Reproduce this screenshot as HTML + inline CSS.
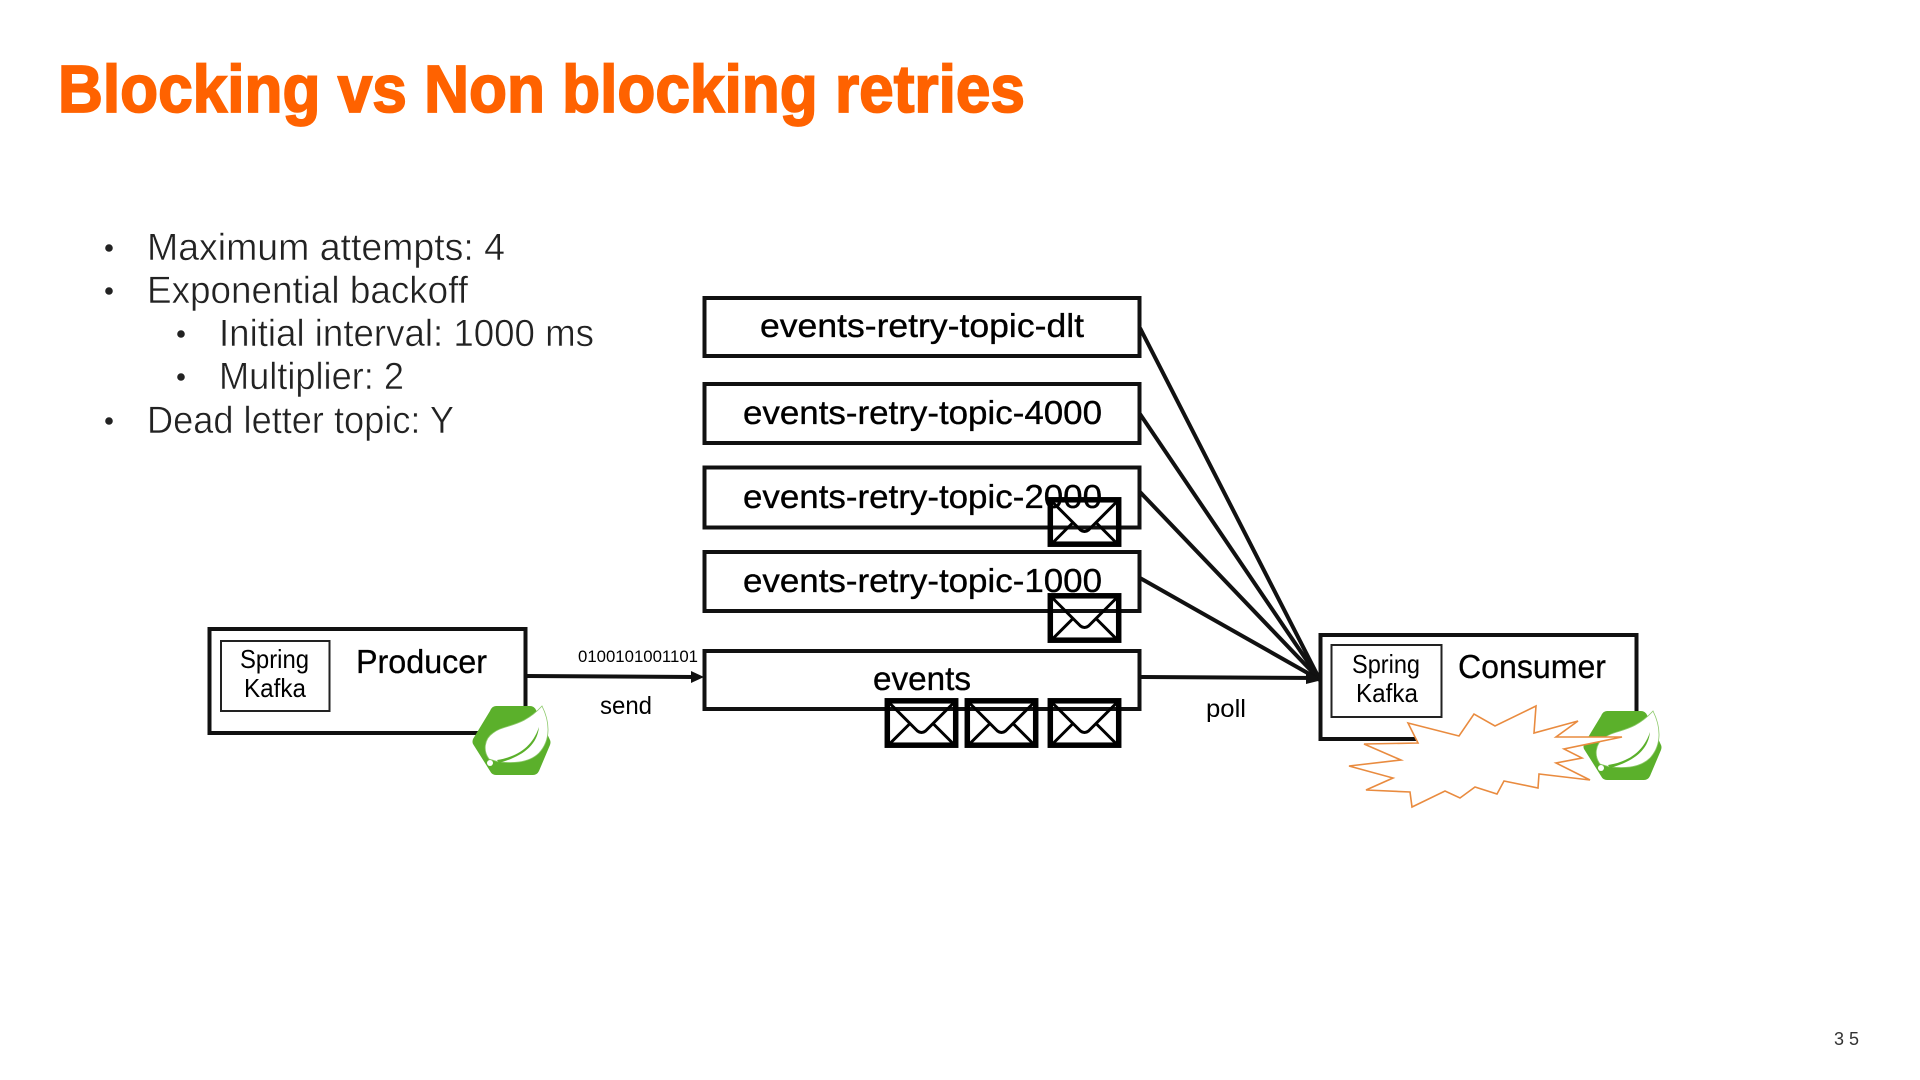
<!DOCTYPE html>
<html lang="en">
<head>
<meta charset="utf-8">
<title>Blocking vs Non blocking retries</title>
<style>
html,body{margin:0;padding:0;background:#fff;width:1920px;height:1080px;overflow:hidden}
svg{display:block}
text{font-family:"Liberation Sans",sans-serif;fill:#000}
.b{font-size:38px;fill:#222;stroke:#fff;stroke-width:.5px}
.t{font-size:33px;stroke:#000;stroke-width:.35px}
.s{font-size:26px}
.box{fill:#fff;stroke:#111;stroke-width:4}
.inner{fill:#fff;stroke:#222;stroke-width:2}
.conn{stroke:#111;stroke-width:4;fill:none}
.env{fill:none;stroke:#000;stroke-linejoin:miter}
</style>
</head>
<body>
<svg width="1920" height="1080" viewBox="0 0 1920 1080" xmlns="http://www.w3.org/2000/svg">
<defs>
<g id="env">
  <rect x="2.800" y="2.800" width="68.400" height="44.400" class="env" stroke-width="5.500"/>
  <path d="M5 5 L33 33 Q37 36 41 33 L69 5" class="env" stroke-width="3"/>
  <path d="M5 46 L26 25 M69 46 L48 25" class="env" stroke-width="3"/>
</g>
<g id="logo">
  <path d="M24 0 H58 Q62 0 64 4 L78 34 Q79 36 78 39 L67 65 Q65 69 61 69 H24 Q20 69 18 65 L1 38 Q0 36 1 33 L18 5 Q20 0 24 0 Z" fill="#5BB02B"/>
  <path d="M17 53 C11 45 12 33 21 27 C32 18 50 22 70 0 C78 16 79 34 67 47 C56 58 38 57 27 56 Z" fill="#fff" stroke="#8CC96A" stroke-width=".8"/>
  <path d="M25 54 C44 51 60 42 67 21 C65 41 48 51 27 57 Z" fill="#5BB02B"/>
  <circle cx="18" cy="57" r="3" fill="#fff"/>
</g>
</defs>

<text x="58" y="112" font-size="67" font-weight="700" textLength="967" lengthAdjust="spacingAndGlyphs" style="fill:#FF6200;stroke:#FF6200;stroke-width:1.8px">Blocking vs Non blocking retries</text>

<circle cx="109" cy="248" r="3.800" fill="#222"/>
<circle cx="109" cy="291" r="3.800" fill="#222"/>
<circle cx="181" cy="334" r="3.800" fill="#222"/>
<circle cx="181" cy="377" r="3.800" fill="#222"/>
<circle cx="109" cy="421" r="3.800" fill="#222"/>
<text class="b" x="147" y="260" textLength="358" lengthAdjust="spacingAndGlyphs">Maximum attempts: 4</text>
<text class="b" x="147" y="303" textLength="321" lengthAdjust="spacingAndGlyphs">Exponential backoff</text>
<text class="b" x="219" y="346" textLength="375" lengthAdjust="spacingAndGlyphs">Initial interval: 1000 ms</text>
<text class="b" x="219" y="389" textLength="185" lengthAdjust="spacingAndGlyphs">Multiplier: 2</text>
<text class="b" x="147" y="433" textLength="307" lengthAdjust="spacingAndGlyphs">Dead letter topic: Y</text>

<line class="conn" x1="1140" y1="328" x2="1320" y2="680"/>
<line class="conn" x1="1140" y1="414" x2="1320" y2="680"/>
<line class="conn" x1="1140" y1="492" x2="1320" y2="680"/>
<line class="conn" x1="1140" y1="578" x2="1320" y2="680"/>
<line class="conn" x1="1140" y1="677" x2="1320" y2="678"/>
<polygon points="1322,680 1306,671 1306,684" fill="#111"/>

<rect class="box" x="704.500" y="298" width="435" height="58"/>
<rect class="box" x="704.500" y="384" width="435" height="59"/>
<rect class="box" x="704.500" y="467.500" width="435" height="60"/>
<rect class="box" x="704.500" y="552" width="435" height="59"/>
<rect class="box" x="704.500" y="651" width="435" height="58"/>

<text class="t" x="760" y="337" textLength="324" lengthAdjust="spacingAndGlyphs">events-retry-topic-dlt</text>
<text class="t" x="743" y="424" textLength="359" lengthAdjust="spacingAndGlyphs">events-retry-topic-4000</text>
<text class="t" x="743" y="508" textLength="359" lengthAdjust="spacingAndGlyphs">events-retry-topic-2000</text>
<text class="t" x="743" y="592" textLength="359" lengthAdjust="spacingAndGlyphs">events-retry-topic-1000</text>
<text class="t" x="873" y="690" textLength="98" lengthAdjust="spacingAndGlyphs">events</text>

<use href="#env" x="1047.500" y="497"/>
<use href="#env" x="1047.500" y="593"/>
<use href="#env" x="884.500" y="698"/>
<use href="#env" x="964.500" y="698"/>
<use href="#env" x="1047.500" y="698"/>

<rect class="box" x="209.500" y="629" width="316" height="104"/>
<rect class="inner" x="221" y="641" width="108.500" height="70"/>
<text class="s" x="240" y="668" textLength="69" lengthAdjust="spacingAndGlyphs">Spring</text>
<text class="s" x="244" y="697" textLength="62" lengthAdjust="spacingAndGlyphs">Kafka</text>
<text x="356" y="673" font-size="33" textLength="131" lengthAdjust="spacingAndGlyphs" style="stroke:#000;stroke-width:.3px">Producer</text>
<use href="#logo" x="472" y="706"/>

<line class="conn" x1="526" y1="676" x2="694" y2="677"/>
<polygon points="704,677 691,671 691,683" fill="#111"/>
<text x="578" y="662" font-size="16.500" textLength="120" lengthAdjust="spacingAndGlyphs">0100101001101</text>
<text x="600" y="714" font-size="25" textLength="52" lengthAdjust="spacingAndGlyphs">send</text>
<text x="1206" y="717" font-size="25" textLength="40" lengthAdjust="spacingAndGlyphs">poll</text>

<rect class="box" x="1320.500" y="635" width="316" height="104"/>
<rect class="inner" x="1331.500" y="645" width="110" height="72"/>
<text class="s" x="1352" y="673" textLength="68" lengthAdjust="spacingAndGlyphs">Spring</text>
<text class="s" x="1356" y="702" textLength="62" lengthAdjust="spacingAndGlyphs">Kafka</text>
<text x="1458" y="678" font-size="33" textLength="148" lengthAdjust="spacingAndGlyphs" style="stroke:#000;stroke-width:.25px">Consumer</text>
<use href="#logo" x="1583" y="711"/>

<polygon fill="#fff" stroke="#E98B3F" stroke-width="1.600" stroke-linejoin="miter" points="1408,723 1459,736 1474,714 1495,726 1536,706 1534,733 1578,721 1556,737 1622,737 1564,749 1582,758 1556,763 1590,780 1539,774 1538,788 1504,781 1497,794 1475,787 1460,798 1445,791 1412,807 1410,792 1366,790 1393,778 1349,766 1401,760 1364,744 1418,743"/>

<text x="1834" y="1045" font-size="18" textLength="25" style="fill:#333">35</text>
</svg>
</body>
</html>
